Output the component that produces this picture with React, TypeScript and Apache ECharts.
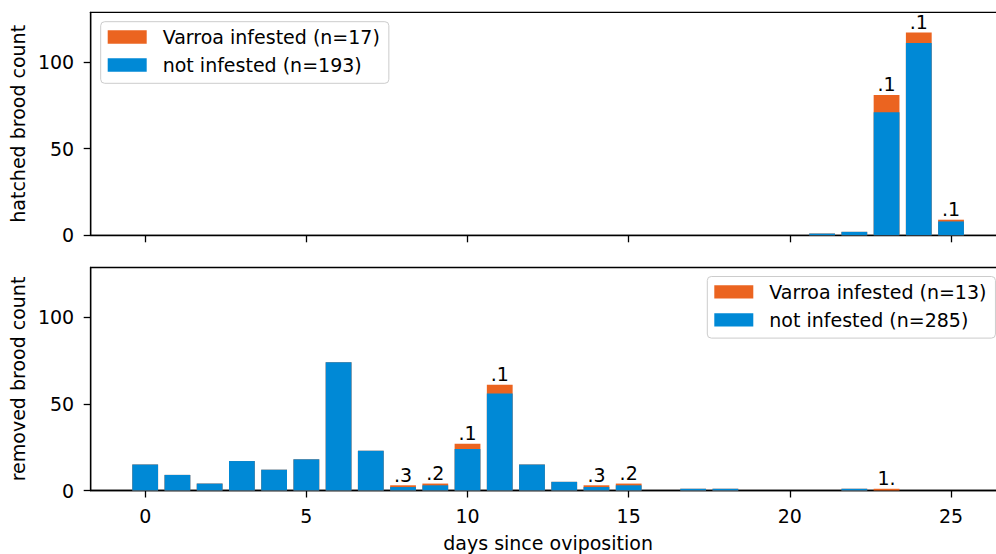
import React, { useEffect, useRef } from 'react';
import * as echarts from 'echarts';

// days since oviposition
const days = [0, 1, 2, 3, 4, 5, 6, 7, 8, 9, 10, 11, 12, 13, 14, 15, 16, 17, 18, 19, 20, 21, 22, 23, 24, 25];

// hatched brood (top panel)
const hatchedNotInfested = [0, 0, 0, 0, 0, 0, 0, 0, 0, 0, 0, 0, 0, 0, 0, 0, 0, 0, 0, 0, 0, 1, 2, 71, 111, 8];
const hatchedInfested = [0, 0, 0, 0, 0, 0, 0, 0, 0, 0, 0, 0, 0, 0, 0, 0, 0, 0, 0, 0, 0, 0, 0, 10, 6, 1];
const hatchedLabels = ['', '', '', '', '', '', '', '', '', '', '', '', '', '', '', '', '', '', '', '', '', '', '', '.1', '.1', '.1'];

// removed brood (bottom panel)
const removedNotInfested = [15, 9, 4, 17, 12, 18, 74, 23, 2, 3, 24, 56, 15, 5, 2, 3, 0, 1, 1, 0, 0, 0, 1, 0, 0, 0];
const removedInfested = [0, 0, 0, 0, 0, 0, 0, 0, 1, 1, 3, 5, 0, 0, 1, 1, 0, 0, 0, 0, 0, 0, 0, 1, 0, 0];
const removedLabels = ['', '', '', '', '', '', '', '', '.3', '.2', '.1', '.1', '', '', '.3', '.2', '', '', '', '', '', '', '', '1.', '', ''];

const xTicks = [0, 5, 10, 15, 20, 25];
const yTicks = [0, 50, 100];
const X_MIN = -1.69;
const X_MAX = 26.69;
const Y_MAX = 128.7;

const names = {
  hatchedInf: 'Varroa infested (n=17)',
  hatchedNot: 'not infested (n=193)',
  removedInf: 'Varroa infested (n=13)',
  removedNot: 'not infested (n=285)',
};

const BLUE = '#0089d6';
const ORANGE = '#eb6420';
const FONT = 'DejaVu Sans';
const FS = 19;

const pairs = (vals: number[]) => days.map((d, i) => [d, vals[i]]);
// infested part sits on top of the not-infested part: its bar spans to the sum
const stackedTop = (base: number[], top: number[]) => days.map((d, i) => [d, base[i] + top[i], top[i]]);

export default function App() {
  const ref = useRef<HTMLDivElement>(null);
  useEffect(() => {
    if (!ref.current) return;
    const chart = echarts.init(ref.current, null, { renderer: 'svg' });
    const lineStyle = { color: '#000', width: 1.3 };
    const mkX = (gridIndex: number, showLabels: boolean) => ({
      type: 'value',
      gridIndex,
      min: X_MIN,
      max: X_MAX,
      axisLine: { show: true, onZero: false, lineStyle },
      axisTick: { show: true, length: 7, lineStyle, customValues: xTicks },
      axisLabel: { show: showLabels, customValues: xTicks, margin: 16, fontSize: FS, color: '#000', fontFamily: FONT },
      splitLine: { show: false },
      name: showLabels ? 'days since oviposition' : '',
      nameLocation: 'middle',
      nameGap: 43,
      nameTextStyle: { fontSize: FS, color: '#000', fontFamily: FONT },
    });
    const mkY = (gridIndex: number, name: string) => ({
      type: 'value',
      gridIndex,
      min: 0,
      max: Y_MAX,
      axisLine: { show: true, onZero: false, lineStyle },
      axisTick: { show: true, length: 7, lineStyle, customValues: yTicks },
      axisLabel: { customValues: yTicks, margin: 16.5, fontSize: FS, color: '#000', fontFamily: FONT },
      splitLine: { show: false },
      name,
      nameLocation: 'middle',
      nameRotate: 90,
      nameGap: 63,
      nameTextStyle: { fontSize: FS, color: '#000', fontFamily: FONT },
    });
    const labelCfg = (labels: string[]) => ({
      show: true,
      position: 'top',
      distance: 1,
      fontSize: FS,
      color: '#000',
      fontFamily: FONT,
      formatter: (p: any) => labels[p.dataIndex],
    });
    const legendCfg = (left: number, top: number, data: string[]) => ({
      orient: 'vertical',
      left,
      top,
      data,
      icon: 'rect',
      itemWidth: 39,
      itemHeight: 13.3,
      itemGap: 6,
      padding: [4.3, 9, 7.3, 7],
      backgroundColor: 'rgba(255,255,255,0.8)',
      borderColor: '#cccccc',
      borderWidth: 1,
      borderRadius: 4,
      selectedMode: false,
      textStyle: { fontSize: FS, color: '#000', fontFamily: FONT, lineHeight: 22, padding: [0, 0, 0, 11] },
    });
    chart.setOption({
      animation: false,
      backgroundColor: '#ffffff',
      textStyle: { fontFamily: FONT },
      grid: [
        { left: 90.7, top: 12.3, width: 914.8, height: 223, show: true, borderColor: '#000', borderWidth: 1.3, containLabel: false, outerBoundsMode: 'none' },
        { left: 90.7, top: 267.5, width: 914.8, height: 223, show: true, borderColor: '#000', borderWidth: 1.3, containLabel: false, outerBoundsMode: 'none' },
      ],
      xAxis: [mkX(0, false), mkX(1, true)],
      yAxis: [mkY(0, 'hatched brood count'), mkY(1, 'removed brood count')],
      legend: [
        legendCfg(100.7, 21.7, [names.hatchedInf, names.hatchedNot]),
        legendCfg(707.3, 276.5, [names.removedInf, names.removedNot]),
      ],
      series: [
        {
          type: 'bar', name: names.hatchedInf, xAxisIndex: 0, yAxisIndex: 0, z: 2,
          barWidth: 25.8, barGap: '-100%', itemStyle: { color: ORANGE },
          encode: { x: 0, y: 1 },
          data: stackedTop(hatchedNotInfested, hatchedInfested),
          label: labelCfg(hatchedLabels),
        },
        {
          type: 'bar', name: names.hatchedNot, xAxisIndex: 0, yAxisIndex: 0, z: 3,
          barWidth: 25.8, barGap: '-100%', itemStyle: { color: BLUE }, data: pairs(hatchedNotInfested),
        },
        {
          type: 'bar', name: names.removedInf, xAxisIndex: 1, yAxisIndex: 1, z: 2,
          barWidth: 25.8, barGap: '-100%', itemStyle: { color: ORANGE },
          encode: { x: 0, y: 1 },
          data: stackedTop(removedNotInfested, removedInfested),
          label: labelCfg(removedLabels),
        },
        {
          type: 'bar', name: names.removedNot, xAxisIndex: 1, yAxisIndex: 1, z: 3,
          barWidth: 25.8, barGap: '-100%', itemStyle: { color: BLUE }, data: pairs(removedNotInfested),
        },
      ],
    });
    return () => chart.dispose();
  }, []);
  return <div ref={ref} style={{ position: 'fixed', left: 0, top: 0, width: 996, height: 554, background: '#fff' }} />;
}
